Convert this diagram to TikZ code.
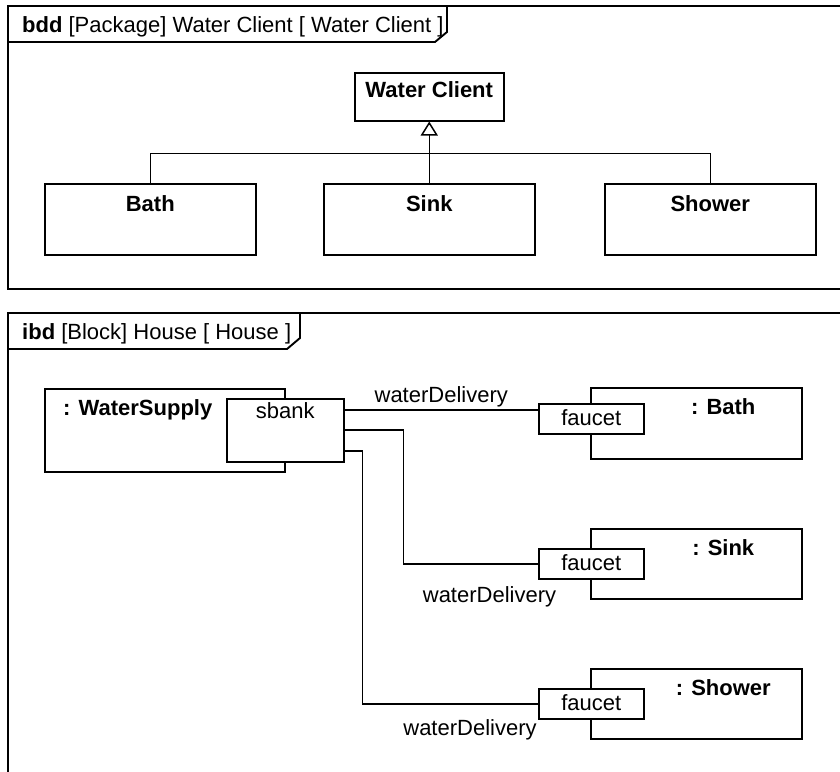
\documentclass[tikz,border=0pt]{standalone}
\usepackage{fontspec}
\setmainfont{Liberation Sans}
\usetikzlibrary{arrows.meta,calc}
\begin{document}
\begin{tikzpicture}[x=1pt,y=-1pt,
  every node/.style={font=\fontsize{22}{26}\selectfont, inner sep=0pt},
  frameline/.style={line width=1.9pt},
  block/.style={draw, line width=1.5pt, fill=white, anchor=north west, minimum width=211pt},
  port/.style={draw, line width=1.5pt, fill=white, anchor=north west, align=center},
  bname/.style={font=\fontsize{22}{26}\selectfont\bfseries, anchor=base},
  conn/.style={line width=1.5pt},
  lbl/.style={anchor=base}
]
\useasboundingbox (0,0) rectangle (840,771);
% bdd frame
\draw[frameline] (842,6) -- (8,6) -- (8,289) -- (842,289);
\draw[frameline] (8,42) -- (435,42) -- (447,32) -- (447,6);
\node[anchor=base west] (bddtitle) at (22,32) {\textbf{bdd} [Package] Water Client [ Water Client ]};
% ibd frame
\draw[frameline] (842,313) -- (8,313) -- (8,773);
\draw[frameline] (8,349) -- (287,349) -- (300,338) -- (300,313);
\node[anchor=base west] (ibdtitle) at (22,339) {\textbf{ibd} [Block] House [ House ]};

% bdd blocks
\node[block, minimum width=149pt, minimum height=48pt] (wc) at (354,72) {};
\node[bname] (wcT) at ($(wc.north)+(0,25)$) {Water Client};
\node[block, minimum height=71pt] (bath) at (44,183) {};
\node[block, minimum height=71pt] (sink) at (323,183) {};
\node[block, minimum height=71pt] (shower) at (604,183) {};
\node[bname] (bathT) at ($(bath.north)+(0,28)$) {Bath};
\node[bname] (sinkT) at ($(sink.north)+(0,28)$) {Sink};
\node[bname] (showerT) at ($(shower.north)+(0,28)$) {Shower};
\coordinate (jn) at ($(wc.south)+(0,32)$);
\draw[conn] (bath.north) |- (jn) -| (shower.north);
\draw[conn, -{Triangle[open, length=14pt, width=17pt]}] (sink.north) -- (wc.south);

% ibd parts
\node[block, minimum width=240pt, minimum height=83pt] (ws) at (44,388) {};
\node[bname, anchor=base west] (wsT) at ($(ws.north west)+(19,27)$) {: WaterSupply};
\node[port, minimum width=117pt, text height=20pt, text depth=43pt] (sbank) at (226,398) {sbank};

\node[block, minimum height=71pt] (pbath) at (590,387) {};
\node[block, minimum height=70pt] (psink) at (590,528) {};
\node[block, minimum height=70pt] (pshower) at (590,668) {};
\node[bname] (pbathT) at ($(pbath.north)+(27,27)$) {: Bath};
\node[bname] (psinkT) at ($(psink.north)+(27,27)$) {: Sink};
\node[bname] (pshowerT) at ($(pshower.north)+(27,27)$) {: Shower};

\node[port, minimum width=105pt, text height=22pt, text depth=8pt] (bathF) at (538,403) {faucet};
\node[port, minimum width=105pt, text height=22pt, text depth=8pt] (sinkF) at (538,548) {faucet};
\node[port, minimum width=105pt, text height=22pt, text depth=8pt] (showerF) at (538,688) {faucet};

\coordinate (s1) at ($(sbank.north east)+(0,12)$);
\coordinate (s2) at ($(sbank.north east)+(0,32)$);
\coordinate (s3) at ($(sbank.north east)+(0,53)$);
\draw[conn] (s1) -- (s1 -| bathF.west) node[midway, anchor=base, yshift=8pt] (l1) {waterDelivery};
\draw[conn] (s2) -- ++(59,0) |- (sinkF.west);
\draw[conn] (s3) -- ++(18,0) |- (showerF.west);
\node[lbl] (l2) at ($(sinkF.south west)+(-48.5,23)$) {waterDelivery};
\node[lbl] (l3) at ($(showerF.south west)+(-68,16)$) {waterDelivery};
\end{tikzpicture}
\end{document}
